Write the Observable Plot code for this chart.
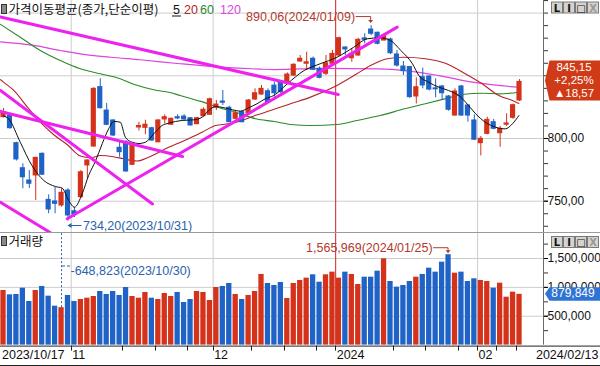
<!DOCTYPE html>
<html><head><meta charset="utf-8">
<script src="https://cdn.jsdelivr.net/npm/d3@7"></script>
<script src="https://cdn.jsdelivr.net/npm/@observablehq/plot@0.6"></script>
<style>
body{margin:0;background:#fff;}
#chart{width:600px;height:366px;overflow:hidden;background:#fff;}
#chart svg{display:block;}
</style></head><body><div id="chart"></div>
<script>
// ---------------- DATA ----------------
const dates = ["2023-10-17","2023-10-18","2023-10-19","2023-10-20","2023-10-23","2023-10-24","2023-10-25","2023-10-26","2023-10-27","2023-10-30","2023-10-31",
"2023-11-01","2023-11-02","2023-11-03","2023-11-06","2023-11-07","2023-11-08","2023-11-09","2023-11-10","2023-11-13","2023-11-14","2023-11-15","2023-11-16","2023-11-17","2023-11-20","2023-11-21","2023-11-22","2023-11-23","2023-11-24","2023-11-27","2023-11-28","2023-11-29","2023-11-30",
"2023-12-01","2023-12-04","2023-12-05","2023-12-06","2023-12-07","2023-12-08","2023-12-11","2023-12-12","2023-12-13","2023-12-14","2023-12-15","2023-12-18","2023-12-19","2023-12-20","2023-12-21","2023-12-22","2023-12-26","2023-12-27","2023-12-28",
"2024-01-02","2024-01-03","2024-01-04","2024-01-05","2024-01-08","2024-01-09","2024-01-10","2024-01-11","2024-01-12","2024-01-15","2024-01-16","2024-01-17","2024-01-18","2024-01-19","2024-01-22","2024-01-23","2024-01-24","2024-01-25","2024-01-26","2024-01-29","2024-01-30","2024-01-31",
"2024-02-01","2024-02-02","2024-02-05","2024-02-06","2024-02-07","2024-02-08","2024-02-13"];

const open = [817,818.3,796.3,776.3,766.5,770.5,787.8,751.1,749.8,746.6,
758.5,742,753.2,778.5,793.6,841,822.3,814.4,792.6,797,
779,808.8,808.5,808.2,797,815.2,811,817,817.5,816.2,
811.4,817.8,818.9,824.5,829.5,824.5,815.7,821,820.2,831.1,
835.1,837.7,842.2,844.9,844.9,850.2,861.4,859.6,863.6,855.6,
851.6,859.6,866.2,872.6,864,866.2,879.9,886.9,884.3,878.1,
879,867,857.4,857,833.5,848.9,849.4,840,841.5,833.5,
818.3,841.5,826.3,814.4,796.3,803.7,813,804.2,811,816.5,
830.3];
const high = [824,819,797,779.8,774.5,785,788.5,755,761.2,759.9,
760,745,774.5,783,840.5,847.6,828,815,797.7,798.4,
795.8,813,814.6,809,815,818.9,816.3,819,819,816.5,
816.8,824.5,832.3,830.3,838.3,825.8,822.3,822.3,831.1,839.6,
842.3,839.6,844.9,846.2,852.3,859.6,866.2,868.8,865,857,
866.2,870.2,880.8,873,871.5,880,883.5,890.06,885,883.5,
880,870.2,861.4,857.4,848.4,856.1,850,847.6,842.3,834.3,
839.6,842.3,827.1,818.9,801.6,817,815.2,809.6,819.7,827.5,
847];
const low = [816.5,807.5,782,759.9,760.1,750.6,770.5,740,740,745.2,
734.2,737,752.5,768,793,823.5,810.3,801.5,785,773.1,
778.5,806,803,797.8,796.5,811.7,810.4,815,814.6,810,
811,817,818.3,822.3,826.3,812.5,815,812.5,819.7,830.3,
834.3,828,832.9,835.6,844.3,849.4,860.8,854.2,854.2,847.6,
850.2,858.2,865.4,866,860.8,865.4,875.5,882,874.7,878,
867,856.9,850.2,832,827.5,839.6,838,832.5,830.3,821.8,
817.8,817.8,813,798.4,786.1,803,807,793,809.6,815.2,
829.5];
const close = [821,808.2,783.3,769.1,763.9,784.6,771.1,743.4,747.9,756.7,
738.6,739.4,773.1,782.5,839.6,824.2,810.9,802.4,789.1,773.7,
794.4,810,811,798.4,814.4,817,815.7,816,815.2,810.4,
816.2,822.9,831.3,827.1,828.5,813,820.2,813,830.3,836.1,
839.6,829,836.1,836.9,851,858.8,863.6,860.8,854.8,848.4,
860,867.5,880,871,867.5,878.7,878.7,883.5,875.5,882.1,
868,858.2,853.7,833,840.9,842.3,839,839.2,836.1,822.9,
837.5,818.3,818.3,799,799.8,814.9,807.7,807.7,812,826.58,
845.15];
const volume = [946000,871000,877000,986000,756000,946000,1016000,848000,675000,648823,
860000,756000,790000,813000,842000,929000,877000,929000,860000,998000,
842000,813000,912000,813000,790000,894000,842000,912000,738000,790000,
929000,912000,773000,998000,1016000,1068000,877000,790000,860000,929000,
1224000,1068000,1033000,1085000,808000,1068000,1120000,1160000,1218000,1090000,
1218000,1264000,1160000,1264000,1224000,1050000,1177000,1177000,1281000,1495000,
1102000,1004000,1033000,1102000,1177000,1224000,1333000,1264000,1437000,1565969,
1246000,1264000,1102000,1149000,1120000,1102000,986000,1073000,830000,917000,
879849];

// moving averages: [day index, value]
const ma5 = [[0,818],[0.8,815.7],[2.6,797],[4.4,778.5],[6.25,766.5],[8.06,761.7],[9.1,760.4],[10.1,750.6],[11,745.2],[12.2,755.9],[13.2,770.5],[14.3,782.5],[15.3,795.8],[16.3,807.7],[17.1,813.6],[18.1,813],[18.9,801],[19.95,797],[21,796],[22,797],[23.3,803.7],[24.6,810.4],[25.6,812.2],[27.7,814.4],[29.5,814.9],[30.8,817],[31.8,822.3],[32.9,825.5],[34.2,824.5],[35.5,822.9],[36.7,821.8],[38,824.5],[39.3,827.7],[40.6,831.7],[41.9,834.3],[44,843.6],[46.6,854.2],[49.1,859.6],[51.7,864.8],[54.3,872.8],[56.4,879.5],[58.4,880.3],[60,878.1],[61.6,870.2],[63.4,859.6],[64.4,850.2],[65.9,844.9],[67.5,840.9],[69,838.3],[70.6,834.3],[72.1,826.3],[73.2,819.7],[74.7,813],[76.3,809],[77.8,807.7],[78.9,811.7],[79.9,818.3]];
const ma20 = [[-0.47,847],[0,845],[1.6,838.3],[3.7,825],[5.7,813],[7.8,803],[9.9,795],[11.9,786],[13.5,784.6],[15,786.4],[17,785.5],[18.6,783.8],[20.7,782],[22.5,785],[25.6,793],[28.7,799.8],[30.8,805],[32.9,810.4],[34.9,811.7],[37,814.4],[39.1,818.5],[41.4,822.3],[44.5,827.7],[47.6,833],[51.7,842.3],[54.8,851.6],[56.9,858.2],[59.5,863.6],[62.1,864.8],[65.4,863.6],[68.5,860],[71.6,851.6],[74.2,843.6],[76.8,834.3],[78.9,830.3],[79.9,828]];
const ma60 = [[-0.47,891],[2.6,880.8],[5.7,870.2],[8.8,862.2],[11.9,855.6],[15,851.6],[18.1,847.6],[20.3,843],[23.8,838.3],[25.6,836.9],[27.4,834.3],[30.6,829.6],[33.8,824],[36,821],[39.1,815.7],[42,813.5],[44.5,811.2],[47.6,810.4],[51.7,811.2],[54.8,814.4],[58.4,818.3],[62.2,823.7],[65.4,827.7],[68.5,831.7],[71.1,835.1],[74.2,836.1],[76.8,835.6],[79.9,836.9]];
const ma120 = [[-0.47,877],[4.7,874.2],[8.8,870.2],[11.9,867.5],[16.6,864.8],[21.2,862.8],[27.4,859.6],[33.6,856.9],[39.8,855.3],[42,855],[50,856],[58,855.5],[62.3,854.2],[67.5,850.2],[72.7,844.9],[76.8,842.3],[79.9,840.9]];

// hand-drawn trend lines: [[index, value], [index, value]]
const trendLines = [
  [[-0.47,896.9],[51.9,835.1]],
  [[-0.47,821.5],[27.75,785.6]],
  [[-0.47,838.3],[23.1,747.8]],
  [[-0.47,749.2],[7.24,725]],
  [[9.88,736],[61.04,888.8]]
];

const maPeriods = ["5","20","60","120"];
const priceGrid = [750,800,850,900];
const priceLabelTicks = [750,800];
const priceMinorTicks = d3.range(730,911,10);
const volGrid = [500000,1000000,1500000];
const volLabelTicks = [500000,1000000,1500000];
const volMinorTicks = d3.range(250000,1950001,250000);
const monthStarts = [11,33,74];
const yearStart = 52;
const xTickIdx = [11,19,24,29,33,39,44,49,52,61,66,71,74,77,80];
const xLabels = [{i:11,t:"11"},{i:33,t:"12"},{i:52,t:"2024",bold:true},{i:74,t:"02"}];
const firstLabel = "2023/10/17", lastLabel = "2024/02/13";
const hiIdx = 57, loIdx = 10, vMaxIdx = 69, vMinIdx = 9;

// ---------------- STYLE ----------------
const RED = "#d4321a", BLUE = "#1f63c6";
const MA_COLORS = ["#111111","#b4232a","#2a8a2a","#dd44dd"];
const TREND = "#ee22ee", GRID = "#cdcdcd", YEAR = "#cc2222";
const NUM = "'Liberation Sans',Arial,sans-serif";
const KR = "'Noto Sans CJK KR','Noto Sans',sans-serif";
const FS = 12.5;
const fmtPrice = v => v.toFixed(2).replace(".", ",");
const fmtVol = d3.format(",");
const fmtDate = s => s.replace(/-/g, "/");

const candles = dates.map((d,i) => ({i, d, o: open[i], h: high[i], l: low[i], c: close[i], v: volume[i], up: close[i] >= open[i]}));
const xDomain = [-0.465, 83.72];
const pairX = d => d[0], pairY = d => d[1];

function buttons(y0) {
  return () => {
    const g = d3.create("svg:g").attr("text-anchor", "middle");
    const labels = ["L","I","□","X"];
    labels.forEach((t,k) => {
      const x = 551 + k*12;
      g.append("rect").attr("x", x+0.5).attr("y", y0+0.5).attr("width", 11).attr("height", 11)
        .attr("fill", "#d6d3ce").attr("stroke", "#7a7a7a");
      g.append("text").attr("x", x+6).attr("y", y0+10)
        .attr("font-family", "'DejaVu Sans',sans-serif").attr("font-size", 10).attr("font-weight","bold")
        .attr("fill", t === "X" ? "#9a9a9a" : "#111").text(t);
    });
    return g.node();
  };
}

function panelTitle(text, withLegend) {
  return () => {
    const g = d3.create("svg:g").attr("text-anchor", "start");
    g.append("rect").attr("x", 1.5).attr("y", 4.5).attr("width", 5).attr("height", 9).attr("fill", "#8a8a8a").attr("stroke", "#333");
    g.append("text").attr("x", 8.5).attr("y", 14).attr("font-family", KR).attr("font-size", 12.5).attr("fill", "#111").text(text);
    if (withLegend) {
      const xs = [173, 184, 200, 220];
      maPeriods.forEach((p,k) => g.append("text").attr("x", xs[k]).attr("y", 14).attr("font-size", FS).attr("fill", MA_COLORS[k]).text(p));
      g.append("line").attr("x1", 172).attr("x2", 181).attr("y1", 16).attr("y2", 16).attr("stroke", "#111");
    }
    return g.node();
  };
}

// ---------------- TOP PANEL ----------------
const topPlot = Plot.plot({
  width: 600, height: 232, marginTop: 0, marginBottom: 0, marginLeft: 0, marginRight: 57,
  x: {domain: xDomain, axis: null},
  y: {domain: [725.04, 910.05], axis: null},
  color: {type: "identity"},
  style: {fontFamily: NUM, fontSize: "12.5px", background: "#fff", overflow: "hidden"},
  marks: [
    Plot.ruleY(priceGrid, {stroke: GRID}),
    Plot.ruleX(monthStarts, {x: d => d - 0.5, stroke: GRID}),
    Plot.ruleX([yearStart], {x: d => d - 0.5, stroke: YEAR}),
    Plot.line(ma120, {x: pairX, y: pairY, stroke: MA_COLORS[3], strokeWidth: 1.2, curve: "monotone-x", clip: true}),
    Plot.line(ma60, {x: pairX, y: pairY, stroke: MA_COLORS[2], strokeWidth: 1.1, curve: "monotone-x", clip: true}),
    Plot.line(ma20, {x: pairX, y: pairY, stroke: MA_COLORS[1], strokeWidth: 1.1, curve: "monotone-x", clip: true}),
    Plot.ruleX(candles, {x: "i", y1: "l", y2: "h", stroke: d => d.up ? RED : BLUE, strokeWidth: 1}),
    Plot.rect(candles, {x1: d => d.i - 0.4, x2: d => d.i + 0.4, y1: d => Math.min(d.o, d.c), y2: d => Math.max(d.o, d.c), fill: d => d.up ? RED : BLUE, insetTop: -0.5, insetBottom: -0.5}),
    Plot.line(ma5, {x: pairX, y: pairY, stroke: MA_COLORS[0], strokeWidth: 1, curve: "monotone-x", clip: true}),
    ...trendLines.map(t => Plot.line(t, {x: pairX, y: pairY, stroke: TREND, strokeWidth: 3, clip: true})),
    // extreme annotations
    Plot.text([candles[hiIdx]], {x: "i", y: "h", text: d => `${fmtPrice(d.h)}(${fmtDate(d.d)})`, textAnchor: "end", dx: -16, dy: -8.5, fill: "#b23a2c", fontSize: FS}),
    Plot.text([candles[loIdx]], {x: "i", y: "l", text: d => `${fmtPrice(d.l)}(${fmtDate(d.d)})`, textAnchor: "start", dx: 15, dy: 5, fill: "#2a62ad", fontSize: FS}),
    (index, scales) => {
      const g = d3.create("svg:g").attr("fill", "none");
      const hx = scales.x(hiIdx), hy = scales.y(high[hiIdx]);
      g.append("path").attr("d", `M${hx-15},${hy-8.5}H${hx}V${hy-4}`).attr("stroke", "#b23a2c");
      g.append("path").attr("d", `M${hx-2.5},${hy-5}L${hx+2.5},${hy-5}L${hx},${hy-2}Z`).attr("fill", "#b23a2c");
      const lx = scales.x(loIdx), ly = scales.y(low[loIdx]);
      g.append("path").attr("d", `M${lx+14},${ly+5}H${lx+1}`).attr("stroke", "#2a62ad");
      g.append("path").attr("d", `M${lx},${ly+5}L${lx+4},${ly+2.5}L${lx+4},${ly+7.5}Z`).attr("fill", "#2a62ad");
      return g.node();
    },
    // right axis
    Plot.ruleX([xDomain[1]], {stroke: "#6a6a6a"}),
    Plot.axisY(priceMinorTicks, {anchor: "right", tickSize: 4, tickFormat: () => "", label: null, stroke: "#333"}),
    Plot.axisY(priceLabelTicks, {anchor: "right", tickSize: 4, tickPadding: 0, tickFormat: fmtPrice, label: null, fontSize: 12, fill: "#111"}),
    // current price box
    (index, scales) => {
      const g = d3.create("svg:g").attr("text-anchor", "middle");
      const last = close.length - 1;
      const chg = close[last] - close[last-1];
      const pct = chg / close[last-1] * 100;
      const cy = scales.y(close[last]);
      g.append("path").attr("d", `M545,${cy-1}L549.5,${cy-21}H600V${cy+19}H549.5Z`).attr("fill", "#cf3a17");
      const lines = [fmtPrice(close[last]), (chg >= 0 ? "+" : "") + pct.toFixed(2).replace(".", ",") + "%", "▲" + fmtPrice(Math.abs(chg))];
      lines.forEach((t,k) => g.append("text").attr("x", 574).attr("y", cy - 13.5 + k*13)
        .attr("dominant-baseline","middle").attr("fill","#fff").attr("font-size", 11.5).text(t));
      return g.node();
    },
    buttons(1.5),
    panelTitle("가격이동평균(종가,단순이평)", true)
  ]
});

// ---------------- VOLUME PANEL ----------------
const volPlot = Plot.plot({
  width: 600, height: 134, marginTop: 0, marginBottom: 21.4, marginLeft: 0, marginRight: 57,
  x: {domain: xDomain, axis: null},
  y: {domain: [0, 1951000], axis: null},
  color: {type: "identity"},
  style: {fontFamily: NUM, fontSize: "12.5px", background: "#fff", overflow: "hidden"},
  marks: [
    Plot.ruleY(volGrid, {stroke: GRID}),
    Plot.ruleX(monthStarts, {x: d => d - 0.5, stroke: GRID}),
    Plot.ruleX([yearStart], {x: d => d - 0.5, stroke: YEAR}),
    Plot.rect(candles, {x1: d => d.i - 0.41, x2: d => d.i + 0.41, y1: 0, y2: "v", fill: d => d.up ? RED : BLUE}),
    Plot.ruleX([candles[vMinIdx]], {x: "i", y1: "v", y2: 1951000, stroke: "#2a62ad", strokeDasharray: "2,2"}),
    Plot.text([candles[vMinIdx]], {x: "i", text: d => `-${fmtVol(d.v)}(${fmtDate(d.d)})`, frameAnchor: "top", dy: 34, dx: 9, textAnchor: "start", fill: "#2a62ad", fontSize: FS}),
    Plot.text([candles[vMaxIdx]], {x: "i", y: "v", text: d => `${fmtVol(d.v)}(${fmtDate(d.d)})`, textAnchor: "end", dx: -16, dy: -6.5, fill: "#b23a2c", fontSize: FS}),
    (index, scales) => {
      const g = d3.create("svg:g").attr("fill","none");
      const mx = scales.x(vMinIdx);
      g.append("path").attr("d", `M${mx+1},34H${mx+9}`).attr("stroke", "#2a62ad").attr("stroke-dasharray", "3,2");
      const vx = scales.x(vMaxIdx), vy = scales.y(volume[vMaxIdx]);
      g.append("path").attr("d", `M${vx-15},${vy-6.5}H${vx}V${vy-3}`).attr("stroke", "#b23a2c");
      g.append("path").attr("d", `M${vx-2.5},${vy-4}L${vx+2.5},${vy-4}L${vx},${vy-1}Z`).attr("fill", "#b23a2c");
      return g.node();
    },
    Plot.ruleX([xDomain[1]], {stroke: "#6a6a6a"}),
    Plot.axisY(volMinorTicks, {anchor: "right", tickSize: 4, tickFormat: () => "", label: null, stroke: "#333"}),
    Plot.axisY(volLabelTicks, {anchor: "right", tickSize: 4, tickPadding: 0, tickFormat: fmtVol, label: null, fontSize: 12, fill: "#111"}),
    (index, scales) => {
      const g = d3.create("svg:g").attr("text-anchor", "middle");
      const last = volume.length - 1;
      const cy = scales.y(volume[last]);
      g.append("path").attr("d", `M545,${cy}L549.5,${cy-6.5}H600V${cy+7}H549.5Z`).attr("fill", "#2f74d4");
      g.append("text").attr("x", 573).attr("y", cy + 0.5).attr("dominant-baseline","middle")
        .attr("fill","#fff").attr("font-size", 12).text(fmtVol(volume[last]));
      return g.node();
    },
    buttons(4),
    () => d3.create("svg:line").attr("x1", 0).attr("x2", 600).attr("y1", 0.5).attr("y2", 0.5).attr("stroke", "#9a9a9a").node(),
    panelTitle("거래량", false),
    // bottom date axis
    (index, scales, values, dims) => {
      const g = d3.create("svg:g");
      const y0 = dims.height - dims.marginBottom + 1;
      g.append("line").attr("x1", 0).attr("x2", 600).attr("y1", y0 + 0.5).attr("y2", y0 + 0.5).attr("stroke", "#222");
      xTickIdx.forEach(i => {
        const x = Math.round(scales.x(i - 0.5)) + 0.5;
        g.append("line").attr("x1", x).attr("x2", x).attr("y1", y0).attr("y2", y0 + 5).attr("stroke", "#222");
      });
      g.append("line").attr("x1", 0).attr("x2", 600).attr("y1", dims.height - 0.5).attr("y2", dims.height - 0.5).attr("stroke", "#222");
      return g.node();
    },
    Plot.text(xLabels, {x: d => d.i - 0.5, text: "t", frameAnchor: "bottom", dy: 13.5, dx: 1, textAnchor: "start", fontWeight: d => d.bold ? "bold" : "normal", fill: "#111", fontSize: FS}),
    Plot.text([firstLabel], {x: () => 0, text: d => d, frameAnchor: "bottom", dy: 13.5, dx: -1.5, textAnchor: "start", fill: "#111", fontSize: FS}),
    Plot.text([lastLabel], {frameAnchor: "bottom-right", text: d => d, dy: 13.5, dx: 55, textAnchor: "end", fill: "#111", fontSize: FS})
  ]
});

const root = document.getElementById("chart");
root.appendChild(topPlot);
root.appendChild(volPlot);
</script></body></html>
